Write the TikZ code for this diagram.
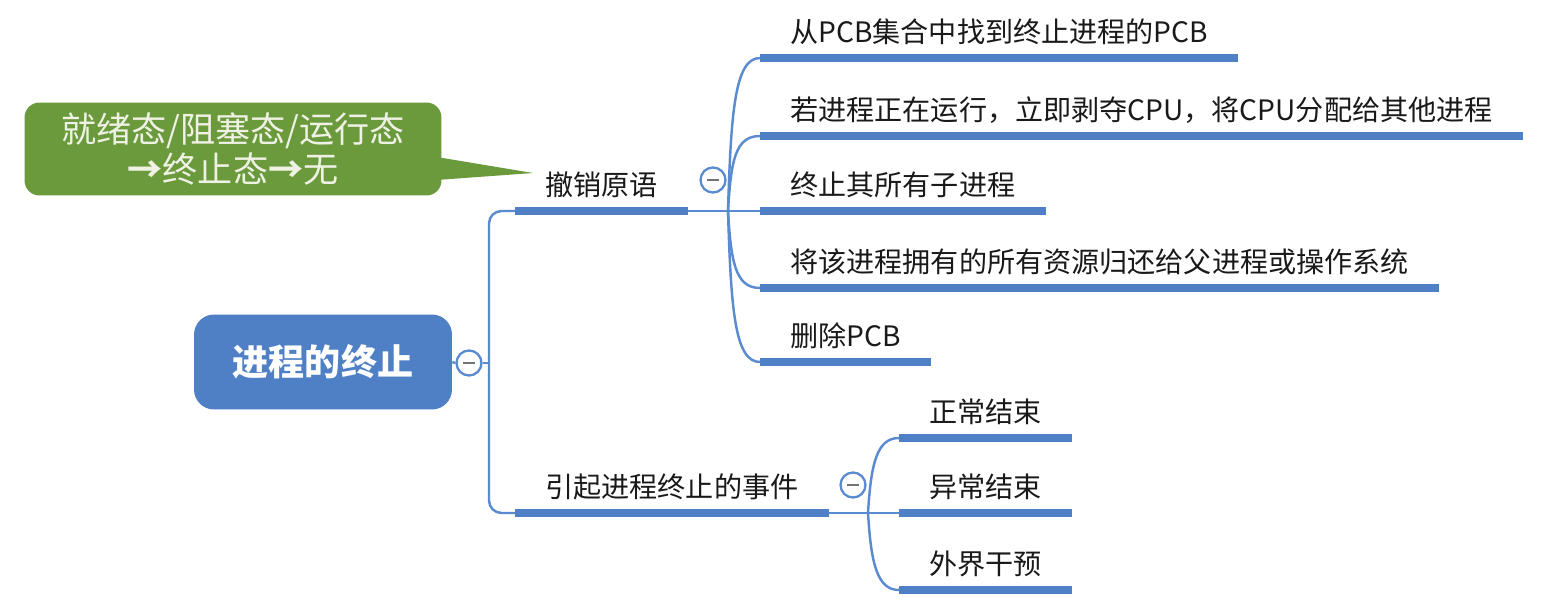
\documentclass[tikz,border=0pt]{standalone}
\usepackage{fontspec}
\setmainfont{Noto Sans CJK SC}
\definecolor{mapblue}{HTML}{4F80C6}
\definecolor{linkblue}{HTML}{5A8BD0}
\definecolor{notegreen}{HTML}{6B9A3C}
\definecolor{notetext}{HTML}{EEF1E4}
\newcommand{\tarrow}{{\bfseries →}}
\tikzset{
  topic/.style={anchor=south west, font=\fontsize{16}{19}\selectfont, text=black!90,
    inner xsep=0.6cm, inner ysep=0.19cm, text depth=0.12cm},
  bar/.style={draw=mapblue, line width=4.2pt},
  link/.style={draw=linkblue, line width=1.4pt},
  fold/.style={circle, draw=linkblue, line width=1.3pt, fill=white, minimum size=0.5cm,
    inner sep=0pt, path picture={\draw[black!55, line width=1pt]
      ([xshift=-0.12cm]path picture bounding box.center) --
      ([xshift=0.12cm]path picture bounding box.center);}},
  root/.style={fill=mapblue, rounded corners=0.4cm, text=white, minimum width=5.16cm,
    minimum height=1.9cm, font=\bfseries\fontsize{20.5}{24}\selectfont},
  note/.style={fill=notegreen, rounded corners=0.3cm, text=notetext, align=center,
    minimum width=8.34cm, minimum height=1.86cm, font=\fontsize{20}{22.7}\selectfont}
}
\begin{document}
\begin{tikzpicture}[x=0.02cm,y=-0.02cm]
    \useasboundingbox (0,0) rectangle (1547,611);
    %nodo centrale
    \node[root] (root) at (323,362) {进程的终止};
    \node[fold] (fold0) at (469,363) {};
    \coordinate (trunk) at (489,363);
    %rami principali
    \node[topic] (revoke) at (515,211) {撤销原语};
    \node[topic] (cause) at (515,513) {引起进程终止的事件};
    \draw[link] (root.east) -- (fold0.west);
    \draw[link] (fold0.east) -- (trunk);
    \draw[link, rounded corners=0.25cm] (revoke.south west) -| (trunk) |- (cause.south west);
    %nota verde
    \node[note] (state) at (233,149) {就绪态/阻塞态/运行态\\\tarrow 终止态\tarrow 无};
    \coordinate (tip) at (533,173);
    \fill[notegreen] ([xshift=-0.1cm,yshift=-0.16cm]state.east) -- (tip)
      -- ([xshift=-0.1cm,yshift=-0.62cm]state.east) -- cycle;
    %figli di撤销原语
    \node[fold] (fold1) at (713,180) {};
    \coordinate (j1) at (728,211);
    \node[topic] (c1) at (760,58) {从PCB集合中找到终止进程的PCB};
    \node[topic] (c2) at (760,136) {若进程正在运行，立即剥夺CPU，将CPU分配给其他进程};
    \node[topic] (c3) at (760,211) {终止其所有子进程};
    \node[topic] (c4) at (760,288) {将该进程拥有的所有资源归还给父进程或操作系统};
    \node[topic] (c5) at (760,362) {删除PCB};
    \draw[link] (revoke.south east) -- (j1) -- (c3.south west);
    \foreach \c/\d in {c1/-100, c2/-50, c4/50, c5/100}
      \draw[link] (j1) .. controls +(3,\d) and +(-25,0) .. (\c.south west);
    %figli di引起进程终止的事件
    \node[fold] (fold2) at (853,485) {};
    \coordinate (j2) at (868,513);
    \node[topic] (e1) at (899,438) {正常结束};
    \node[topic] (e2) at (899,513) {异常结束};
    \node[topic] (e3) at (899,590) {外界干预};
    \draw[link] (cause.south east) -- (j2) -- (e2.south west);
    \foreach \c/\d in {e1/-50, e3/50}
      \draw[link] (j2) .. controls +(3,\d) and +(-22,0) .. (\c.south west);
    %sottolineature
    \foreach \n in {revoke, cause, c1, c2, c3, c4, c5, e1, e2, e3}
      \draw[bar] (\n.south west) -- (\n.south east);
\end{tikzpicture}
\end{document}
